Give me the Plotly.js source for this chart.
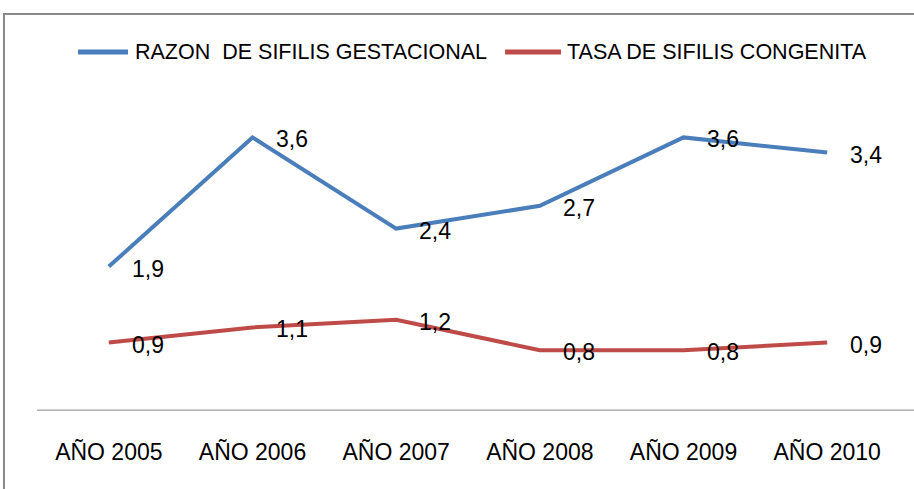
<!DOCTYPE html>
<html>
<head>
<meta charset="utf-8">
<script src="https://cdn.plot.ly/plotly-3.0.1.min.js"></script>
<style>html,body{margin:0;padding:0;background:#fff;}#chart{width:914px;height:489px;}</style>
</head>
<body>
<div id="chart"></div>
<script>
var categories = ["AÑO 2005", "AÑO 2006", "AÑO 2007", "AÑO 2008", "AÑO 2009", "AÑO 2010"];
var seriesNames = ["RAZON  DE SIFILIS GESTACIONAL", "TASA DE SIFILIS CONGENITA"];
var razonGestacional = [1.9, 3.6, 2.4, 2.7, 3.6, 3.4];
var tasaCongenita = [0.9, 1.1, 1.2, 0.8, 0.8, 0.9];
var seriesColors = ["#4A7EBB", "#BE4B48"];

var FONT = "Liberation Sans, Arial, sans-serif";
var allSeries = [razonGestacional, tasaCongenita];

var traces = allSeries.map(function (vals, k) {
  return {
    x: categories, y: vals, type: "scatter", mode: "lines",
    name: seriesNames[k], line: {color: seriesColors[k], width: 4},
    showlegend: false, hoverinfo: "skip"
  };
});

var annotations = [];
allSeries.forEach(function (vals) {
  vals.forEach(function (v, i) {
    annotations.push({
      x: categories[i], y: v, xref: "x", yref: "y",
      text: v.toFixed(1).replace(".", ","), showarrow: false,
      xanchor: "left", yanchor: "middle", xshift: 21, yshift: -2,
      font: {family: FONT, size: 23, color: "#000"}
    });
  });
});

// custom legend
var LY = (411 - 52) / 304;
var legendPos = [[0.0476, 0.1056, 0.1114], [0.543, 0.6079, 0.6126]];
var shapes = [];
seriesNames.forEach(function (n, k) {
  var p = legendPos[k];
  shapes.push({type: "line", xref: "paper", yref: "paper", x0: p[0], x1: p[1], y0: LY, y1: LY,
    line: {color: seriesColors[k], width: 5}});
  annotations.push({xref: "paper", yref: "paper", x: p[2], y: LY, xanchor: "left", yanchor: "middle",
    showarrow: false, text: n, font: {family: FONT, size: 21.5, color: "#000"}});
});
// axis line extending to right edge
shapes.push({type: "line", xref: "paper", yref: "paper", x0: 0, x1: 1.02, y0: 0.003, y1: 0.003,
  line: {color: "#868686", width: 1}});
// chart border
shapes.push({type: "rect", xref: "paper", yref: "paper", x0: -0.0383, x1: 1.05, y0: -0.3, y1: (411 - 14) / 304,
  line: {color: "#8a8a8a", width: 2}, fillcolor: "rgba(0,0,0,0)"});

var layout = {
  width: 914, height: 489,
  margin: {l: 37, r: 15, t: 107, b: 78},
  paper_bgcolor: "#fff", plot_bgcolor: "#fff",
  showlegend: false,
  xaxis: {
    type: "category", showgrid: false, zeroline: false, showline: false,
    ticks: "", ticklabelstandoff: 25,
    tickfont: {family: FONT, size: 23, color: "#000"},
    range: [-0.5, 5.5], fixedrange: true
  },
  yaxis: {
    range: [0, 4], visible: false, showgrid: false, zeroline: false, fixedrange: true
  },
  annotations: annotations,
  shapes: shapes
};

Plotly.newPlot("chart", traces, layout, {staticPlot: true, displayModeBar: false});
</script>
</body>
</html>
